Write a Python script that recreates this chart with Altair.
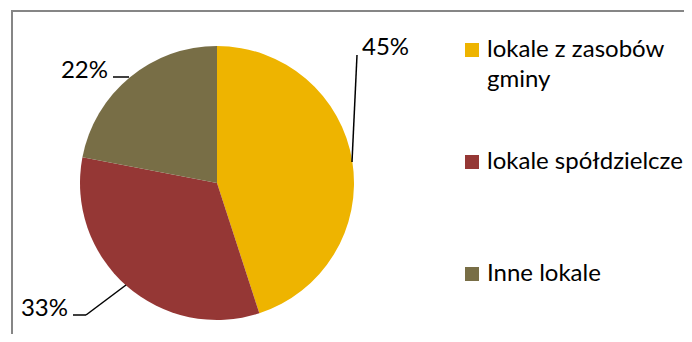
import altair as alt
import pandas as pd

categories = ["lokale z zasobów gminy", "lokale spółdzielcze", "Inne lokale"]
legend_lines = ["lokale z zasobów\ngminy", "lokale spółdzielcze", "Inne lokale"]
shares = [0.45, 0.33, 0.22]
colors = ["#EEB400", "#953735", "#786E46"]

df = pd.DataFrame({
    "cat": categories,
    "label": legend_lines,
    "share": shares,
    "order": [0, 1, 2],
})

FONT = "Lato"
FS = 24

color = alt.Color("cat:N", scale=alt.Scale(domain=categories, range=colors), legend=None)

pie = alt.Chart(df).mark_arc(radius=137).encode(
    theta=alt.Theta("share:Q", stack=True),
    order=alt.Order("order:Q"),
    color=color,
    x=alt.value(209),
    y=alt.value(175),
)

frame = alt.Chart(df).mark_rect(fill=None, stroke="#868686", strokeWidth=2).encode(
    x=alt.value(4), x2=alt.value(720), y=alt.value(3), y2=alt.value(400)
)

def pct_label(cat, x, y, align):
    return alt.Chart(df).transform_filter(alt.datum.cat == cat).mark_text(
        font=FONT, fontSize=FS, align=align, baseline="alphabetic", color="#000000"
    ).encode(text=alt.Text("share:Q", format=".0%"), x=alt.value(x), y=alt.value(y))

lab45 = pct_label(categories[0], 354, 47, "left")
lab33 = pct_label(categories[1], 60, 308, "right")
lab22 = pct_label(categories[2], 100, 70, "right")

def rule(x1, y1, x2, y2):
    return alt.Chart(df.head(1)).mark_rule(color="#000000", strokeWidth=1.5).encode(
        x=alt.value(x1), y=alt.value(y1), x2=alt.value(x2), y2=alt.value(y2)
    )

leaders = [
    rule(349, 47, 344, 154),
    rule(105, 69, 121, 69),
    rule(65, 307, 78, 307),
    rule(78, 307, 118, 277),
]

ypos = alt.Y("order:Q", scale=alt.Scale(domain=[0, 2], range=[42, 266]), axis=None)

leg_sym = alt.Chart(df).mark_square(size=196, opacity=1).encode(
    x=alt.value(464), y=ypos, color=color
)
leg_txt = alt.Chart(df).mark_text(
    font=FONT, fontSize=FS, align="left", baseline="alphabetic", dy=7,
    lineBreak="\n", lineHeight=30, color="#000000"
).encode(x=alt.value(479), y=ypos, text="label:N")

chart = alt.layer(frame, pie, lab45, lab33, lab22, *leaders, leg_sym, leg_txt).properties(
    width=676, height=326, padding=0, autosize=alt.AutoSizeParams(type="none")
).configure_view(stroke=None)

chart.save("out.html", embed_options={"renderer": "svg", "actions": False})
